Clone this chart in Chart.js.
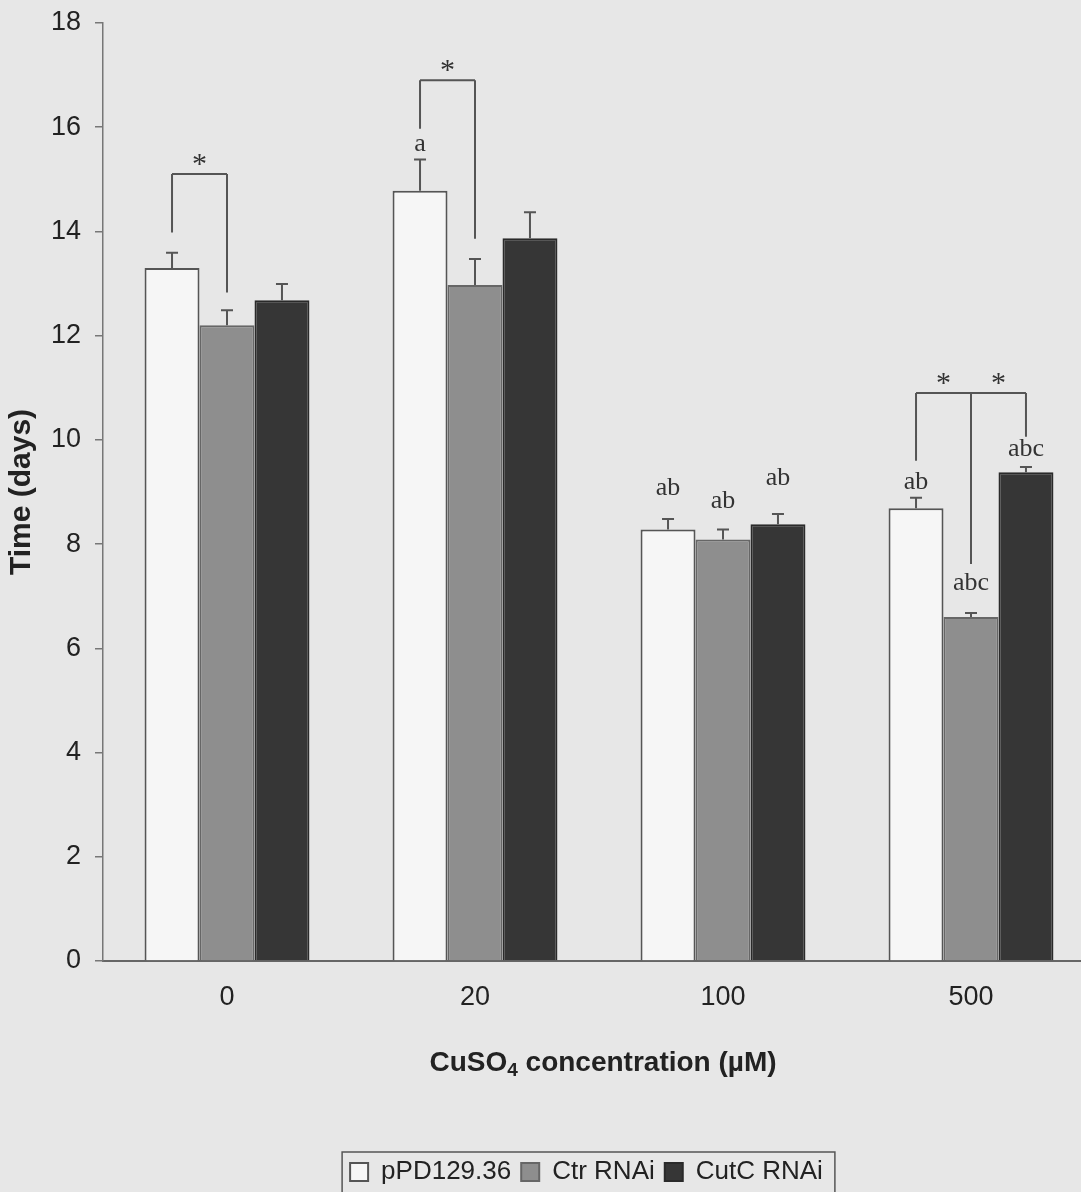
<!DOCTYPE html>
<html>
<head>
<meta charset="utf-8">
<script src="https://cdn.jsdelivr.net/npm/chart.js@4.4.0/dist/chart.umd.min.js"></script>
<style>
  html, body { margin: 0; padding: 0; background: #e7e7e7; overflow: hidden; }
  #wrap { width: 1081px; height: 1192px; overflow: hidden; }
</style>
</head>
<body>
<div id="wrap"><canvas id="myChart" width="1120" height="1195"></canvas></div>
<script>
// values
const concentrations = ["0", "20", "100", "500"];
const pPD = [13.3, 14.78, 8.28, 8.69];
const ctrRNAi = [12.2, 12.97, 8.09, 6.6];
const cutcRNAi = [12.68, 13.87, 8.38, 9.38];
const pPDErr = [0.29, 0.6, 0.2, 0.2];
const ctrErr = [0.29, 0.5, 0.19, 0.08];
const cutcErr = [0.31, 0.5, 0.2, 0.1];
const yTicks = [0, 2, 4, 6, 8, 10, 12, 14, 16, 18];

// significance letters: category, dataset, text, height
const letterCat = [1, 2, 2, 2, 3, 3, 3];
const letterSet = [0, 0, 1, 2, 0, 1, 2];
const letterText = ["a", "ab", "ab", "ab", "ab", "abc", "abc"];
const letterY = [15.68, 9.08, 8.83, 9.27, 9.18, 7.26, 9.83];

// brackets with stars: category, top height, legs [dataset, bottom height]
const bracketCat = [0, 1, 3];
const bracketTop = [15.1, 16.9, 10.9];
const bracketLegs = [
  [[0, 13.98], [1, 12.83]],
  [[0, 15.97], [1, 13.86]],
  [[0, 9.6], [1, 7.62], [2, 10.06]]
];

const errors = [pPDErr, ctrErr, cutcErr];
const sans = "'Liberation Sans', Arial, sans-serif";
const serif = "'Liberation Serif', 'Times New Roman', serif";

const annotations = {
  id: "annotations",
  afterLayout(chart) {
    // legend sits right of centre in the figure
    chart.legend.left += 39;
    chart.legend.right += 39;
  },
  afterDatasetsDraw(chart) {
    const ctx = chart.ctx;
    const y = chart.scales.y;
    ctx.save();
    // error bars
    ctx.strokeStyle = "#555";
    ctx.lineWidth = 2;
    errors.forEach((errs, s) => {
      const meta = chart.getDatasetMeta(s);
      meta.data.forEach((bar, i) => {
        const v = chart.data.datasets[s].data[i];
        const yTop = y.getPixelForValue(v + errs[i]);
        ctx.beginPath();
        ctx.moveTo(bar.x, bar.y);
        ctx.lineTo(bar.x, yTop);
        ctx.moveTo(bar.x - 6, yTop);
        ctx.lineTo(bar.x + 6, yTop);
        ctx.stroke();
      });
    });
    // brackets
    ctx.fillStyle = "#333";
    ctx.font = "30px " + serif;
    ctx.textAlign = "center";
    ctx.textBaseline = "alphabetic";
    bracketCat.forEach((cat, b) => {
      const top = y.getPixelForValue(bracketTop[b]);
      const legs = bracketLegs[b].map(l => ({
        x: chart.getDatasetMeta(l[0]).data[cat].x,
        y: y.getPixelForValue(l[1])
      }));
      ctx.beginPath();
      ctx.moveTo(legs[0].x, top);
      ctx.lineTo(legs[legs.length - 1].x, top);
      legs.forEach(l => {
        ctx.moveTo(l.x, top);
        ctx.lineTo(l.x, l.y);
      });
      ctx.stroke();
      for (let k = 0; k < legs.length - 1; k++) {
        ctx.fillText("*", (legs[k].x + legs[k + 1].x) / 2, top - 1);
      }
    });
    // letters
    ctx.font = "26px " + serif;
    ctx.textBaseline = "middle";
    letterCat.forEach((cat, k) => {
      const bar = chart.getDatasetMeta(letterSet[k]).data[cat];
      ctx.fillText(letterText[k], bar.x, y.getPixelForValue(letterY[k]));
    });
    ctx.restore();
  },
  afterDraw(chart) {
    const ctx = chart.ctx;
    ctx.save();
    // x axis title with subscript
    ctx.fillStyle = "#222";
    ctx.textBaseline = "middle";
    ctx.textAlign = "left";
    const big = "bold 28px " + sans;
    const small = "bold 19px " + sans;
    const p1 = "CuSO", p2 = "4", p3 = " concentration (\u00b5M)";
    ctx.font = big;
    const w1 = ctx.measureText(p1).width, w3 = ctx.measureText(p3).width;
    ctx.font = small;
    const w2 = ctx.measureText(p2).width;
    let x = 603 - (w1 + w2 + w3) / 2;
    const ty = 1063;
    ctx.font = big;
    ctx.fillText(p1, x, ty);
    x += w1;
    ctx.font = small;
    ctx.fillText(p2, x, ty + 8);
    x += w2;
    ctx.font = big;
    ctx.fillText(p3, x, ty);
    // legend frame
    const lg = chart.legend;
    const pad = lg.options.labels.padding;
    const lw = lg.lineWidths[0];
    const start = (lg.left + pad + lg.right - lw) / 2;
    ctx.strokeStyle = "#555";
    ctx.lineWidth = 1.5;
    ctx.strokeRect(start - 8, lg.top + 3, lw - pad + 20, 60);
    ctx.restore();
  }
};

const data = {
  labels: concentrations,
  datasets: [
    {
      label: "pPD129.36",
      data: pPD,
      backgroundColor: "#f6f6f6",
      borderColor: "#555",
      borderWidth: 2
    },
    {
      label: "Ctr RNAi",
      data: ctrRNAi,
      backgroundColor: "#8e8e8e",
      borderColor: "#666",
      borderWidth: 2
    },
    {
      label: "CutC RNAi",
      data: cutcRNAi,
      backgroundColor: "#363636",
      borderColor: "#2a2a2a",
      borderWidth: 2
    }
  ]
};

const config = {
  type: "bar",
  data: data,
  plugins: [annotations],
  options: {
    responsive: false,
    animation: false,
    datasets: { bar: { categoryPercentage: 0.665, barPercentage: 1 } },
    layout: { padding: { top: 0, left: 0, right: 25, bottom: 0 } },
    plugins: {
      tooltip: { enabled: false },
      legend: {
        position: "bottom",
        labels: {
          color: "#222",
          font: { family: sans, size: 26 },
          boxWidth: 18,
          boxHeight: 18,
          padding: 10
        }
      }
    },
    scales: {
      x: {
        grid: { display: false },
        border: { display: true, color: "#666", width: 2 },
        ticks: {
          color: "#222",
          padding: 12,
          font: { family: sans, size: 27 }
        },
        afterFit: (scale) => { scale.height = 188; }
      },
      y: {
        min: 0,
        max: 18,
        afterBuildTicks: (scale) => { scale.ticks = yTicks.map(v => ({ value: v })); },
        grid: { drawOnChartArea: false, drawTicks: true, tickLength: 8, color: "#777", lineWidth: 1.5 },
        border: { display: true, color: "#777", width: 1.5 },
        ticks: {
          color: "#222",
          padding: 14,
          font: { family: sans, size: 27 }
        },
        title: {
          display: true,
          text: "Time (days)",
          color: "#222",
          font: { family: sans, size: 30, weight: "bold" },
          padding: { top: 4, bottom: 0 }
        },
        afterFit: (scale) => {
          scale.width = 103;
          scale.paddingTop = 23;
          scale.paddingBottom = 0;
        }
      }
    }
  }
};

const canvas = document.getElementById("myChart");
const ctx = canvas.getContext("2d");
const myChart = new Chart(ctx, config);
</script>
</body>
</html>
